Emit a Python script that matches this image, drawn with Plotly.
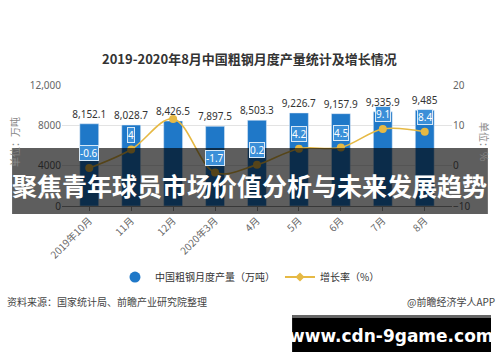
import plotly.graph_objects as go

categories = ["2019年10月", "11月", "12月", "2020年3月", "4月", "5月", "6月", "7月", "8月"]
output_wt = [8152.1, 8028.7, 8426.5, 7897.5, 8503.3, 9226.7, 9157.9, 9335.9, 9485]
growth_pct = [-0.6, 4, 11.6, -1.7, 0.2, 4.2, 4.5, 9.1, 8.4]
growth_labels = ["-0.6", "4", "", "-1.7", "0.2", "4.2", "4.5", "9.1", "8.4"]
left_ticks = [0, 4000, 8000, 12000]
left_ticktext = ["0", "4000", "8000", "12,000"]
right_ticks = [-10, 0, 10, 20]

title = "2019-2020年8月中国粗钢月度产量统计及增长情况"
banner = "聚焦青年球员市场价值分析与未来发展趋势"
source = "资料来源：国家统计局、前瞻产业研究院整理"
credit = "@前瞻经济学人APP"
watermark = "www.cdn-9game.com"

BLUE = "#1f78c8"
GOLD = "#e6b944"
FONT = "Noto Sans CJK SC"
NUM = "Noto Sans"

fig = go.Figure()
fig.add_trace(go.Bar(
    x=categories, y=output_wt, marker_color=BLUE, width=0.45,
    text=[f"{v:,}" for v in output_wt], textposition="outside", constraintext="none",
    textfont=dict(size=10, color="#333", family=NUM),
    cliponaxis=False, showlegend=False, yaxis="y"))
fig.add_trace(go.Scatter(
    x=categories, y=growth_pct, mode="lines+markers", yaxis="y2",
    line=dict(color=GOLD, width=1.6, shape="spline", smoothing=1.0),
    marker=dict(color=GOLD, size=8), showlegend=False, cliponaxis=False))

# legend dummies
fig.add_trace(go.Scatter(x=[None], y=[None], mode="markers",
                         marker=dict(color=BLUE, size=11, symbol="circle"),
                         name="中国粗钢月度产量（万吨）"))
fig.add_trace(go.Scatter(x=[None], y=[None], mode="lines+markers",
                         line=dict(color=GOLD, width=2),
                         marker=dict(color=GOLD, size=7, symbol="diamond"),
                         name="增长率（%）", yaxis="y2"))

for c, v, t in zip(categories, growth_pct, growth_labels):
    if t:
        fig.add_annotation(x=c, y=v, yref="y2", text=t, showarrow=False,
                           xanchor="center", yanchor="middle",
                           yshift=15, bgcolor="#3b8fd8", bordercolor="#d6e8f7",
                           borderwidth=1, borderpad=0,
                           font=dict(size=10, color="white", family=NUM))

def note(x, y, text, size, color, family=FONT, xanchor="center", angle=0):
    fig.add_annotation(xref="paper", yref="paper", x=x, y=y, text=text,
                       xanchor=xanchor, yanchor="middle", textangle=angle,
                       showarrow=False, font=dict(size=size, color=color, family=family))

# banner overlay
fig.add_shape(type="rect", xref="paper", yref="paper",
              x0=-0.128, x1=1.092, y0=-0.066, y1=0.479,
              fillcolor="rgba(0,0,0,0.63)", line_width=0, layer="above")
note(0.482, 0.174, f"<b>{banner}</b>", 25, "white")

# watermark box
fig.add_shape(type="rect", xref="paper", yref="paper",
              x0=0.59, x1=1.10, y0=-1.207, y1=-0.901,
              fillcolor="black", line_width=0, layer="above")
fig.add_shape(type="rect", xref="paper", yref="paper",
              x0=0.59, x1=1.10, y0=-0.926, y1=-0.901,
              fillcolor="#666", line_width=0, layer="above")
note(0.844, -1.075, f"<b>{watermark}</b>", 17, "white", family="DejaVu Sans")

# title, source texts, axis titles
note(0.482, 1.223, f"<b>{title}</b>", 13, "#333")
note(-0.147, -0.793, source, 10, "#444", xanchor="left")
note(1.115, -0.793, credit, 10, "#444", xanchor="right")
note(-0.1205, 0.529, "单位：万吨", 10, "#888", angle=-90)
note(1.082, 0.529, "单位：%", 10, "#888", angle=90)

fig.update_layout(
    width=500, height=362, margin=dict(l=62, r=48, t=85, b=156),
    paper_bgcolor="white", plot_bgcolor="white",
    font=dict(family=FONT, size=10, color="#666"),
    xaxis=dict(type="category", range=[-0.65, 8.65], tickangle=-45,
               showline=True, linecolor="#999", ticks="outside", ticklen=4,
               tickcolor="#999", tickfont=dict(size=10, color="#666")),
    yaxis=dict(range=[0, 12000], tickvals=left_ticks, ticktext=left_ticktext,
               showgrid=True, gridcolor="#e3e3e3", zeroline=False,
               tickfont=dict(size=10, color="#666", family=NUM)),
    yaxis2=dict(range=[-10, 20], tickvals=right_ticks, overlaying="y", side="right",
                showgrid=False, zeroline=False,
                tickfont=dict(size=10, color="#666", family=NUM)),
    legend=dict(orientation="h", x=0.482, xanchor="center", y=-0.587, yanchor="middle",
                font=dict(size=10, color="#333"), itemwidth=30),
    bargap=0.5,
)

fig.write_html("out.html", config={"displayModeBar": False},
               post_script="document.body.style.margin='0px';")
